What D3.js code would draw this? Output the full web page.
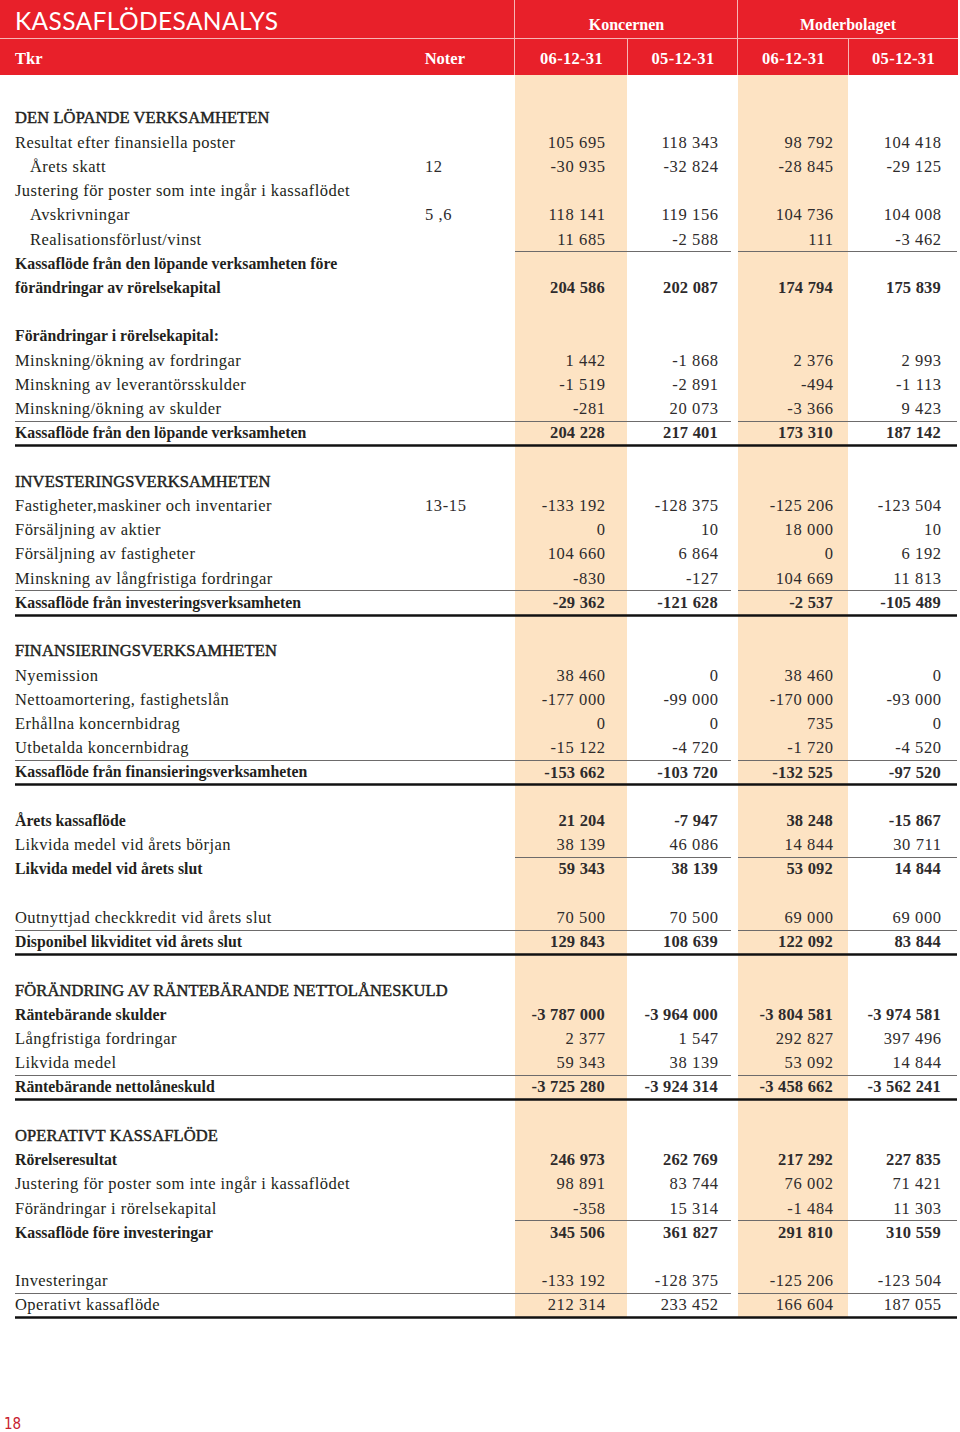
<!DOCTYPE html>
<html><head><meta charset="utf-8">
<script src="https://cdn.jsdelivr.net/npm/d3@7"></script>
<style>
html,body{margin:0;padding:0;background:#fff;}
svg{display:block;}
</style></head>
<body>
<svg id="c" width="960" height="1432"></svg>
<script>
// ---------- DATA ----------
const title = "KASSAFLÖDESANALYS";
const groupLabels = ["Koncernen", "Moderbolaget"];
const columnKeys = ["k06", "k05", "m06", "m05"];
const columnLabels = ["06-12-31", "05-12-31", "06-12-31", "05-12-31"];
const unitLabel = "Tkr";
const notesLabel = "Noter";
const pageNumber = "18";

const rowLabels = [
  "DEN LÖPANDE VERKSAMHETEN",
  "Resultat efter finansiella poster",
  "Årets skatt",
  "Justering för poster som inte ingår i kassaflödet",
  "Avskrivningar",
  "Realisationsförlust/vinst",
  "Kassaflöde från den löpande verksamheten före",
  "förändringar av rörelsekapital",
  "",
  "Förändringar i rörelsekapital:",
  "Minskning/ökning av fordringar",
  "Minskning av leverantörsskulder",
  "Minskning/ökning av skulder",
  "Kassaflöde från den löpande verksamheten",
  "",
  "INVESTERINGSVERKSAMHETEN",
  "Fastigheter,maskiner och inventarier",
  "Försäljning av aktier",
  "Försäljning av fastigheter",
  "Minskning av långfristiga fordringar",
  "Kassaflöde från investeringsverksamheten",
  "",
  "FINANSIERINGSVERKSAMHETEN",
  "Nyemission",
  "Nettoamortering, fastighetslån",
  "Erhållna koncernbidrag",
  "Utbetalda koncernbidrag",
  "Kassaflöde från finansieringsverksamheten",
  "",
  "Årets kassaflöde",
  "Likvida medel vid årets början",
  "Likvida medel vid årets slut",
  "",
  "Outnyttjad checkkredit vid årets slut",
  "Disponibel likviditet vid årets slut",
  "",
  "FÖRÄNDRING AV RÄNTEBÄRANDE NETTOLÅNESKULD",
  "Räntebärande skulder",
  "Långfristiga fordringar",
  "Likvida medel",
  "Räntebärande nettolåneskuld",
  "",
  "OPERATIVT KASSAFLÖDE",
  "Rörelseresultat",
  "Justering för poster som inte ingår i kassaflödet",
  "Förändringar i rörelsekapital",
  "Kassaflöde före investeringar",
  "",
  "Investeringar",
  "Operativt kassaflöde"
];

const rowNotes = ["", "", "12", "", "5 ,6", "", "", "", "", "", "", "", "", "", "", "",
  "13-15", "", "", "", "", "", "", "", "", "", "", "", "", "", "", "", "", "", "",
  "", "", "", "", "", "", "", "", "", "", "", "", "", "", ""];

const koncern2006 = [null, 105695, -30935, null, 118141, 11685, null, 204586, null,
  null, 1442, -1519, -281, 204228, null,
  null, -133192, 0, 104660, -830, -29362, null,
  null, 38460, -177000, 0, -15122, -153662, null,
  21204, 38139, 59343, null, 70500, 129843, null,
  null, -3787000, 2377, 59343, -3725280, null,
  null, 246973, 98891, -358, 345506, null, -133192, 212314];

const koncern2005 = [null, 118343, -32824, null, 119156, -2588, null, 202087, null,
  null, -1868, -2891, 20073, 217401, null,
  null, -128375, 10, 6864, -127, -121628, null,
  null, 0, -99000, 0, -4720, -103720, null,
  -7947, 46086, 38139, null, 70500, 108639, null,
  null, -3964000, 1547, 38139, -3924314, null,
  null, 262769, 83744, 15314, 361827, null, -128375, 233452];

const moder2006 = [null, 98792, -28845, null, 104736, 111, null, 174794, null,
  null, 2376, -494, -3366, 173310, null,
  null, -125206, 18000, 0, 104669, -2537, null,
  null, 38460, -170000, 735, -1720, -132525, null,
  38248, 14844, 53092, null, 69000, 122092, null,
  null, -3804581, 292827, 53092, -3458662, null,
  null, 217292, 76002, -1484, 291810, null, -125206, 166604];

const moder2005 = [null, 104418, -29125, null, 104008, -3462, null, 175839, null,
  null, 2993, -1113, 9423, 187142, null,
  null, -123504, 10, 6192, 11813, -105489, null,
  null, 0, -93000, 0, -4520, -97520, null,
  -15867, 30711, 14844, null, 69000, 83844, null,
  null, -3974581, 397496, 14844, -3562241, null,
  null, 227835, 71421, 11303, 310559, null, -123504, 187055];

// row type: h = section heading, b = bold total, t = bold text only, i = indented, n = normal
const rowTypes = ["h","n","i","n","i","i","t","b","n",
  "t","n","n","n","b","n",
  "h","n","n","n","n","b","n",
  "h","n","n","n","n","b","n",
  "b","n","b","n","n","b","n",
  "h","b","n","n","b","n",
  "h","b","n","n","b","n","n","n"];

// rule under row: v = thin values only, f = thin full, T = thick full
const rowRules = {5:"v", 12:"f", 13:"T", 19:"f", 20:"T", 26:"f", 27:"T",
  30:"v", 33:"f", 34:"T", 39:"f", 40:"T", 45:"v", 48:"f", 49:"T"};

// ---------- DRAW ----------
const seriesByKey = {k06: koncern2006, k05: koncern2005, m06: moder2006, m05: moder2005};
const RED = "#e8202a", SHADE = "#fde3c3", INK = "#231f20", NUM = "#2e2b2c";
const serif = "'Liberation Serif','Times New Roman',serif";

const svg = d3.select("#c");
const fmt = d3.formatLocale({decimal: ",", thousands: " ", grouping: [3], currency: ["", ""], minus: "-"}).format(",d");

const y = d3.scalePoint().domain(d3.range(rowLabels.length)).range([118, 1305]);
const step = y.step();
const colLeft = d3.scaleOrdinal().domain(columnKeys).range([515, 628, 738, 849]);
const colRight = d3.scaleOrdinal().domain(columnKeys).range([628, 738, 849, 958]);
const colText = d3.scaleOrdinal().domain(columnKeys).range([605, 718, 833, 941]);
const shaded = ["k06", "m06"];
const headTop = 75, tableBottom = y(rowLabels.length - 1) + step / 2 + 1;

// shaded columns
svg.append("g").selectAll("rect").data(shaded).join("rect")
  .attr("x", d => colLeft(d)).attr("y", headTop)
  .attr("width", d => colRight(d) - colLeft(d) - 1).attr("height", tableBottom - headTop)
  .attr("fill", SHADE);

// header band
const hdr = svg.append("g");
hdr.append("rect").attr("x", 0).attr("y", 0).attr("width", 958).attr("height", headTop).attr("fill", RED);
hdr.append("line").attr("x1", 0).attr("x2", 958).attr("y1", 38.5).attr("y2", 38.5)
  .attr("stroke", "#f7b5b5").attr("stroke-width", 1);
[515, 738].forEach(x => hdr.append("line").attr("x1", x - 0.5).attr("x2", x - 0.5)
  .attr("y1", 0).attr("y2", headTop).attr("stroke", "#f7b5b5").attr("stroke-width", 1));
hdr.selectAll("line.sub").data(["k05", "m05"]).join("line").attr("class", "sub")
  .attr("x1", d => colLeft(d) - 0.5).attr("x2", d => colLeft(d) - 0.5)
  .attr("y1", 38).attr("y2", headTop).attr("stroke", "#f7b5b5").attr("stroke-width", 1);

hdr.append("text").attr("x", 15).attr("y", 30).text(title)
  .attr("fill", "#fff").attr("font-family", "Lato, 'Open Sans', sans-serif")
  .attr("font-size", 24.5).attr("font-weight", 400)
  .attr("textLength", 263).attr("lengthAdjust", "spacing");

const groupSpans = [["k06", "k05"], ["m06", "m05"]];
hdr.selectAll("text.grp").data(groupLabels).join("text").attr("class", "grp")
  .attr("x", (d, i) => (colLeft(groupSpans[i][0]) + colRight(groupSpans[i][1])) / 2)
  .attr("y", 30).attr("text-anchor", "middle").text(d => d)
  .attr("fill", "#fff").attr("font-family", serif).attr("font-weight", 700).attr("font-size", 16);

hdr.selectAll("text.col").data(columnKeys).join("text").attr("class", "col")
  .attr("x", d => (colLeft(d) + colRight(d)) / 2).attr("y", 64).attr("text-anchor", "middle")
  .text((d, i) => columnLabels[i])
  .attr("fill", "#fff").attr("font-family", serif).attr("font-weight", 700).attr("font-size", 16.5)
  .attr("letter-spacing", 0.3);

hdr.append("text").attr("x", 15).attr("y", 64).text(unitLabel)
  .attr("fill", "#fff").attr("font-family", serif).attr("font-weight", 700).attr("font-size", 16.5);
hdr.append("text").attr("x", 465).attr("y", 64).attr("text-anchor", "end").text(notesLabel)
  .attr("fill", "#fff").attr("font-family", serif).attr("font-weight", 700).attr("font-size", 16.5);

// rules
const rules = svg.append("g");
Object.entries(rowRules).forEach(([k, type]) => {
  const yy = Math.round(y(+k) + step / 2) + 0.5;
  if (type === "T") {
    rules.append("line").attr("x1", 15).attr("x2", 957).attr("y1", yy).attr("y2", yy)
      .attr("stroke", "#111").attr("stroke-width", 2.5);
  } else {
    const segs = type === "f" ? [[15, 731], [738, 957]] : [[515, 731], [738, 957]];
    segs.forEach(s => rules.append("line").attr("x1", s[0]).attr("x2", s[1])
      .attr("y1", yy).attr("y2", yy).attr("stroke", "#6d6b6b").attr("stroke-width", 1.2));
  }
});

// labels
const isBold = i => rowTypes[i] === "b" || rowTypes[i] === "t";
const rows = svg.append("g");
rows.selectAll("text.lab").data(rowLabels).join("text").attr("class", "lab")
  .attr("x", (d, i) => rowTypes[i] === "i" ? 30 : 15)
  .attr("y", (d, i) => y(i)).attr("dy", "0.33em")
  .text(d => d)
  .attr("fill", INK).attr("font-family", serif)
  .attr("font-size", (d, i) => isBold(i) ? 15.8 : 16.5)
  .attr("letter-spacing", (d, i) => isBold(i) ? 0 : (rowTypes[i] === "h" ? 0.1 : 0.45))
  .attr("font-weight", (d, i) => isBold(i) ? 700 : 400)
  .attr("stroke", (d, i) => rowTypes[i] === "h" ? INK : "none")
  .attr("stroke-width", 0.45);

rows.selectAll("text.note").data(rowNotes).join("text").attr("class", "note")
  .attr("x", 425).attr("y", (d, i) => y(i)).attr("dy", "0.33em").text(d => d)
  .attr("fill", NUM).attr("font-family", serif).attr("font-size", 16.5).attr("letter-spacing", 0.6);

// values
columnKeys.forEach(key => {
  const vals = seriesByKey[key];
  rows.append("g").selectAll("text").data(vals.map((v, i) => ({v, i})).filter(d => d.v !== null))
    .join("text")
    .attr("x", d => colText(key) + (rowTypes[d.i] === "b" ? 0 : 0.6)).attr("y", d => y(d.i)).attr("dy", "0.33em")
    .attr("text-anchor", "end").text(d => fmt(d.v))
    .attr("fill", NUM).attr("font-family", serif).attr("font-size", 16.5)
    .attr("letter-spacing", d => rowTypes[d.i] === "b" ? 0.2 : 0.6)
    .attr("font-weight", d => rowTypes[d.i] === "b" ? 700 : 400);
});

// page number
svg.append("text").attr("x", 4).attr("y", 1429).text(pageNumber)
  .attr("fill", "#c8202d").attr("font-family", "'Liberation Sans Narrow','DejaVu Sans Condensed',sans-serif")
  .attr("font-size", 15);
</script>
</body></html>
